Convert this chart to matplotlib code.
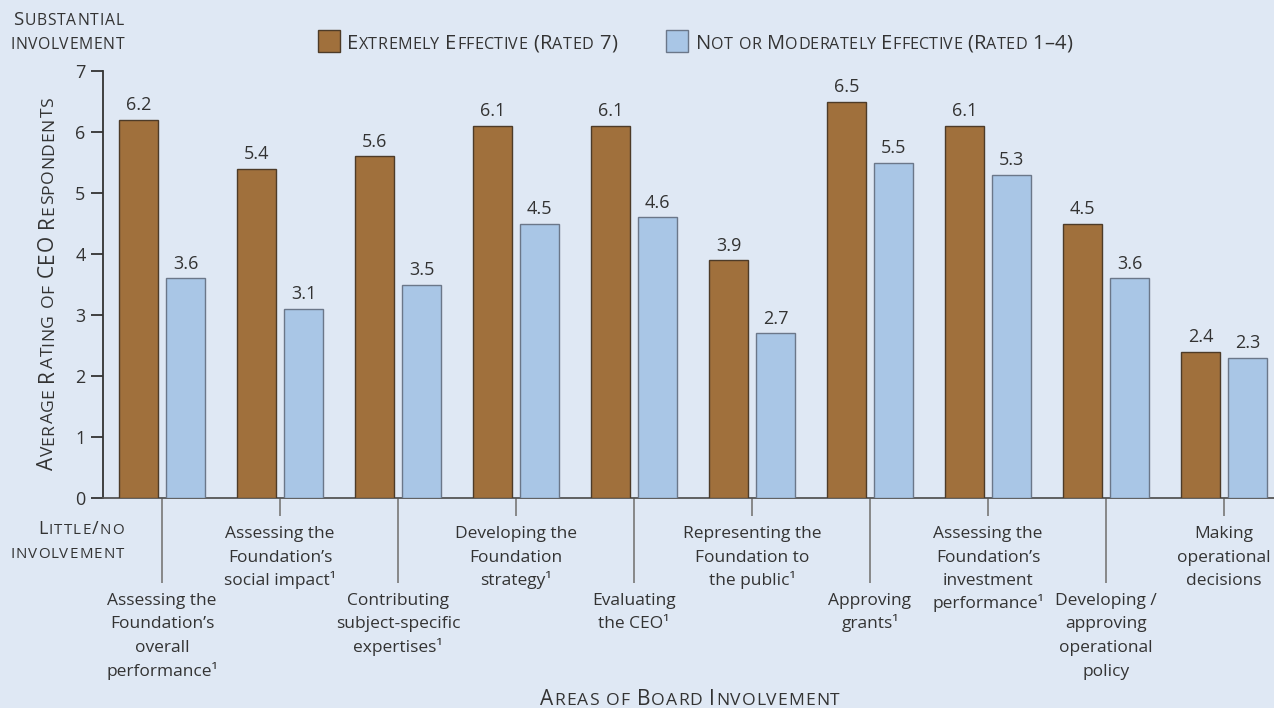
import matplotlib
matplotlib.use('Agg')
import matplotlib.pyplot as plt
from matplotlib.font_manager import FontProperties
from matplotlib.patches import Rectangle
from matplotlib import transforms
import numpy as np

W, H, DPI = 1274, 708, 100
FONT = 'Open Sans'
TEXT = '#333333'
BG = '#dfe8f4'
BROWN = '#a0703c'
BLUE = '#a9c6e6'
BROWN_EDGE = '#4d3b28'
BLUE_EDGE = '#6b7789'

categories = [
    "Assessing the\nFoundation\u2019s\noverall\nperformance\u00b9",
    "Assessing the\nFoundation\u2019s\nsocial impact\u00b9",
    "Contributing\nsubject-specific\nexpertises\u00b9",
    "Developing the\nFoundation\nstrategy\u00b9",
    "Evaluating\nthe CEO\u00b9",
    "Representing the\nFoundation to\nthe public\u00b9",
    "Approving\ngrants\u00b9",
    "Assessing the\nFoundation\u2019s\ninvestment\nperformance\u00b9",
    "Developing /\napproving\noperational\npolicy",
    "Making\noperational\ndecisions",
]
extremely_effective = [6.2, 5.4, 5.6, 6.1, 6.1, 3.9, 6.5, 6.1, 4.5, 2.4]
not_or_moderately = [3.6, 3.1, 3.5, 4.5, 4.6, 2.7, 5.5, 5.3, 3.6, 2.3]
y_ticks = [0, 1, 2, 3, 4, 5, 6, 7]

fig = plt.figure(figsize=(W / DPI, H / DPI), dpi=DPI, facecolor=BG)
ax = fig.add_axes([103 / W, 1 - 498 / H, 1 - 103 / W, (498 - 71) / H])
ax.set_facecolor(BG)

x = np.arange(len(categories))
bw, off = 0.33, 0.199
ax.bar(x - off, extremely_effective, bw, color=BROWN, edgecolor=BROWN_EDGE, linewidth=1.0, zorder=3)
ax.bar(x + off, not_or_moderately, bw, color=BLUE, edgecolor=BLUE_EDGE, linewidth=1.0, zorder=3)

for xs, vals in ((x - off, extremely_effective), (x + off, not_or_moderately)):
    for xi, v in zip(xs, vals):
        ax.annotate(f"{v:.1f}", (xi, v), xytext=(0, 4), textcoords='offset points',
                    ha='center', va='bottom', fontsize=13, family=FONT, color=TEXT)

ax.set_xlim(-0.5, (1274 - 162) / 118)
ax.set_ylim(0, 7)

for s in ('top', 'right'):
    ax.spines[s].set_visible(False)
ax.spines['left'].set_color('#333333')
ax.spines['left'].set_linewidth(1.3)
ax.spines['bottom'].set_color('#555555')
ax.spines['bottom'].set_linewidth(1.3)

ax.set_yticks(y_ticks)
ax.set_yticklabels([str(t) for t in y_ticks])
ax.tick_params(axis='y', length=8.6, width=1.3, color='#333333', pad=4,
               labelsize=13, labelcolor=TEXT)
for lab in ax.get_yticklabels():
    lab.set_family(FONT)

# long ticks under even-numbered groups, short ticks under the others
ax.set_xticks(x[::2])
ax.set_xticks(x[1::2], minor=True)
ax.tick_params(axis='x', which='major', length=61, width=1.3, color='#808080',
               labelbottom=False)
ax.tick_params(axis='x', which='minor', length=13, width=1.3, color='#808080',
               labelbottom=False)

# category labels, one text per line so every row keeps the same pitch
label_tf = transforms.blended_transform_factory(ax.transData, fig.transFigure)
PITCH = 23.5
for i, (xc, name) in enumerate(zip(x, categories)):
    first = 605 if i % 2 == 0 else 538
    for j, line in enumerate(name.split("\n")):
        ax.text(xc, 1 - (first + j * PITCH) / H, line, transform=label_tf,
                ha='center', va='baseline', fontsize=12.5, family=FONT,
                color=TEXT, clip_on=False)

_renderer = fig.canvas.get_renderer()


def _width(s, size):
    fp = FontProperties(family=FONT, size=size)
    w1, _, _ = _renderer.get_text_width_height_descent('|' + s + '|', fp, ismath=False)
    w0, _, _ = _renderer.get_text_width_height_descent('||', fp, ismath=False)
    return w1 - w0


def small_caps(xp, yp, text, size, span, ratio=0.84, ha='left', rotation=0, color=TEXT):
    """Draw letter-spaced small capitals filling `span` pixels.

    xp, yp are pixel coords measured from the top-left corner of the figure.
    """
    glyphs = []
    for ch in text:
        sz = size * ratio if ch.islower() else size
        glyphs.append((ch.upper(), sz, _width(ch.upper(), sz)))
    track = (span - sum(g[2] for g in glyphs)) / (len(glyphs) - 1)
    start = {'left': 0, 'center': -span / 2, 'right': -span}[ha]
    ang = np.deg2rad(rotation)
    dx, dy = np.cos(ang), np.sin(ang)
    pos = start
    y0 = H - yp
    for c, sz, w in glyphs:
        fig.text((xp + pos * dx) / W, (y0 + pos * dy) / H, c, fontsize=sz, family=FONT,
                 color=color, rotation=rotation, rotation_mode='anchor',
                 ha='left', va='baseline')
        pos += w + track


small_caps(124, 25, "Substantial", 13.5, 111, ha='right')
small_caps(124, 49, "involvement", 13.5, 114, ha='right')
small_caps(124, 534, "Little/no", 13, 86, ha='right')
small_caps(124, 558, "involvement", 13, 114, ha='right')
small_caps(53, 283.5, "Average Rating of CEO Respondents", 15, 373, ha='center', rotation=90)
small_caps(690, 705, "Areas of Board Involvement", 15, 299, ha='center')

# legend
fig.patches.append(Rectangle((318 / W, 1 - 52 / H), 22 / W, 22 / H, transform=fig.transFigure,
                             facecolor=BROWN, edgecolor=BROWN_EDGE, linewidth=1.0))
fig.patches.append(Rectangle((666 / W, 1 - 52 / H), 22 / W, 22 / H, transform=fig.transFigure,
                             facecolor=BLUE, edgecolor=BLUE_EDGE, linewidth=1.0))
small_caps(347, 49, "Extremely Effective (Rated 7)", 14.5, 270, ratio=0.8)
small_caps(696, 49, "Not or Moderately Effective (Rated 1\u20134)", 14.5, 376, ratio=0.8)

fig.savefig('out.png', dpi=DPI, facecolor=BG)
